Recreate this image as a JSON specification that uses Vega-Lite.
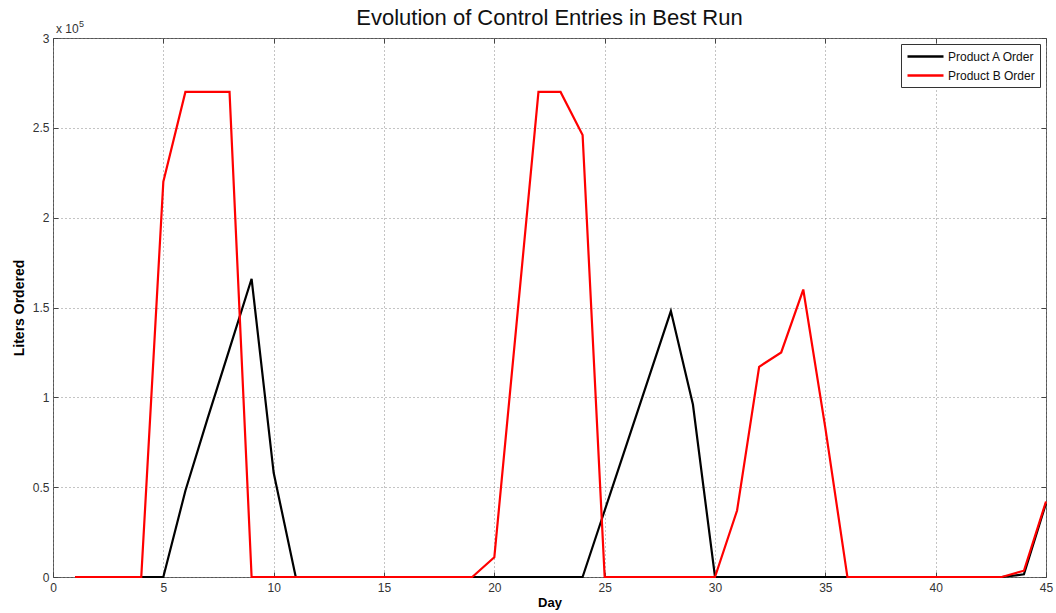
{
  "$schema": "https://vega.github.io/schema/vega-lite/v6.json",
  "width": 993,
  "height": 539,
  "autosize": {"type": "none"},
  "padding": {"left": 53, "top": 38, "right": 10, "bottom": 36},
  "background": "white",
  "config": {
    "font": "Liberation Sans",
    "view": {"stroke": "#555", "strokeWidth": 1},
    "axis": {"labelFont": "Liberation Sans", "titleFont": "Liberation Sans", "labelFontSize": 12, "labelColor": "#333", "tickColor": "#444", "domain": false}
  },
  "title": {"text": "Evolution of Control Entries in Best Run", "fontSize": 22, "fontWeight": "normal", "font": "Liberation Sans", "color": "#111", "offset": -10},
  "data": {"values": [
    {"day": 1, "series": "Product A Order", "value": 0},
    {"day": 2, "series": "Product A Order", "value": 0},
    {"day": 3, "series": "Product A Order", "value": 0},
    {"day": 4, "series": "Product A Order", "value": 0},
    {"day": 5, "series": "Product A Order", "value": 0},
    {"day": 6, "series": "Product A Order", "value": 48000},
    {"day": 7, "series": "Product A Order", "value": 88000},
    {"day": 8, "series": "Product A Order", "value": 127000},
    {"day": 9, "series": "Product A Order", "value": 166000},
    {"day": 10, "series": "Product A Order", "value": 58000},
    {"day": 11, "series": "Product A Order", "value": 0},
    {"day": 12, "series": "Product A Order", "value": 0},
    {"day": 13, "series": "Product A Order", "value": 0},
    {"day": 14, "series": "Product A Order", "value": 0},
    {"day": 15, "series": "Product A Order", "value": 0},
    {"day": 16, "series": "Product A Order", "value": 0},
    {"day": 17, "series": "Product A Order", "value": 0},
    {"day": 18, "series": "Product A Order", "value": 0},
    {"day": 19, "series": "Product A Order", "value": 0},
    {"day": 20, "series": "Product A Order", "value": 0},
    {"day": 21, "series": "Product A Order", "value": 0},
    {"day": 22, "series": "Product A Order", "value": 0},
    {"day": 23, "series": "Product A Order", "value": 0},
    {"day": 24, "series": "Product A Order", "value": 0},
    {"day": 25, "series": "Product A Order", "value": 37000},
    {"day": 26, "series": "Product A Order", "value": 74000},
    {"day": 27, "series": "Product A Order", "value": 111000},
    {"day": 28, "series": "Product A Order", "value": 148000},
    {"day": 29, "series": "Product A Order", "value": 96000},
    {"day": 30, "series": "Product A Order", "value": 0},
    {"day": 31, "series": "Product A Order", "value": 0},
    {"day": 32, "series": "Product A Order", "value": 0},
    {"day": 33, "series": "Product A Order", "value": 0},
    {"day": 34, "series": "Product A Order", "value": 0},
    {"day": 35, "series": "Product A Order", "value": 0},
    {"day": 36, "series": "Product A Order", "value": 0},
    {"day": 37, "series": "Product A Order", "value": 0},
    {"day": 38, "series": "Product A Order", "value": 0},
    {"day": 39, "series": "Product A Order", "value": 0},
    {"day": 40, "series": "Product A Order", "value": 0},
    {"day": 41, "series": "Product A Order", "value": 0},
    {"day": 42, "series": "Product A Order", "value": 0},
    {"day": 43, "series": "Product A Order", "value": 0},
    {"day": 44, "series": "Product A Order", "value": 1500},
    {"day": 45, "series": "Product A Order", "value": 41000},
    {"day": 1, "series": "Product B Order", "value": 0},
    {"day": 2, "series": "Product B Order", "value": 0},
    {"day": 3, "series": "Product B Order", "value": 0},
    {"day": 4, "series": "Product B Order", "value": 0},
    {"day": 5, "series": "Product B Order", "value": 220000},
    {"day": 6, "series": "Product B Order", "value": 270000},
    {"day": 7, "series": "Product B Order", "value": 270000},
    {"day": 8, "series": "Product B Order", "value": 270000},
    {"day": 9, "series": "Product B Order", "value": 0},
    {"day": 10, "series": "Product B Order", "value": 0},
    {"day": 11, "series": "Product B Order", "value": 0},
    {"day": 12, "series": "Product B Order", "value": 0},
    {"day": 13, "series": "Product B Order", "value": 0},
    {"day": 14, "series": "Product B Order", "value": 0},
    {"day": 15, "series": "Product B Order", "value": 0},
    {"day": 16, "series": "Product B Order", "value": 0},
    {"day": 17, "series": "Product B Order", "value": 0},
    {"day": 18, "series": "Product B Order", "value": 0},
    {"day": 19, "series": "Product B Order", "value": 0},
    {"day": 20, "series": "Product B Order", "value": 11000},
    {"day": 21, "series": "Product B Order", "value": 140000},
    {"day": 22, "series": "Product B Order", "value": 270000},
    {"day": 23, "series": "Product B Order", "value": 270000},
    {"day": 24, "series": "Product B Order", "value": 246000},
    {"day": 25, "series": "Product B Order", "value": 0},
    {"day": 26, "series": "Product B Order", "value": 0},
    {"day": 27, "series": "Product B Order", "value": 0},
    {"day": 28, "series": "Product B Order", "value": 0},
    {"day": 29, "series": "Product B Order", "value": 0},
    {"day": 30, "series": "Product B Order", "value": 0},
    {"day": 31, "series": "Product B Order", "value": 37000},
    {"day": 32, "series": "Product B Order", "value": 117000},
    {"day": 33, "series": "Product B Order", "value": 125000},
    {"day": 34, "series": "Product B Order", "value": 160000},
    {"day": 35, "series": "Product B Order", "value": 83000},
    {"day": 36, "series": "Product B Order", "value": 0},
    {"day": 37, "series": "Product B Order", "value": 0},
    {"day": 38, "series": "Product B Order", "value": 0},
    {"day": 39, "series": "Product B Order", "value": 0},
    {"day": 40, "series": "Product B Order", "value": 0},
    {"day": 41, "series": "Product B Order", "value": 0},
    {"day": 42, "series": "Product B Order", "value": 0},
    {"day": 43, "series": "Product B Order", "value": 0},
    {"day": 44, "series": "Product B Order", "value": 3500},
    {"day": 45, "series": "Product B Order", "value": 42000}
  ]},
  "resolve": {"axis": {"x": "independent", "y": "independent"}},
  "layer": [
    {
      "mark": {"type": "line", "strokeWidth": 2.2},
      "encoding": {
        "x": {"field": "day", "type": "quantitative", "scale": {"domain": [0, 45], "nice": false, "zero": false},
              "axis": {"orient": "bottom", "title": "Day", "titleFontSize": 13, "titleFontWeight": "bold", "titleColor": "#000", "titlePadding": 3,
                       "values": [0, 5, 10, 15, 20, 25, 30, 35, 40, 45], "grid": true, "gridDash": [1, 3], "gridColor": "#888", "tickSize": -5, "labelPadding": 10, "labelFlush": false}},
        "y": {"field": "value", "type": "quantitative", "scale": {"domain": [0, 300000], "nice": false},
              "axis": {"orient": "left", "title": "Liters Ordered", "titleFontSize": 14, "titleFontWeight": "bold", "titleColor": "#000", "titlePadding": 6,
                       "values": [0, 50000, 100000, 150000, 200000, 250000, 300000], "labelExpr": "datum.value / 100000", "grid": true, "gridDash": [1, 3], "gridColor": "#888", "tickSize": -5, "labelPadding": 9, "labelFlush": false}},
        "color": {"field": "series", "type": "nominal", "scale": {"domain": ["Product A Order", "Product B Order"], "range": ["#000000", "#ff0000"]},
                  "legend": {"title": null, "orient": "top-right", "offset": 6, "symbolType": "M-1,0H5", "symbolSize": 144, "symbolStrokeWidth": 2.5, "labelFontSize": 12, "labelFont": "Liberation Sans", "labelColor": "#111", "strokeColor": "#333", "fillColor": "white", "padding": 5, "rowPadding": 5, "labelOffset": 27}}
      }
    },
    {
      "mark": {"type": "line", "opacity": 0},
      "encoding": {
        "x": {"field": "day", "type": "quantitative", "axis": {"orient": "top", "title": null, "labels": false, "grid": false, "tickSize": -5, "values": [0, 5, 10, 15, 20, 25, 30, 35, 40, 45]}},
        "y": {"field": "value", "type": "quantitative", "axis": {"orient": "right", "title": null, "labels": false, "grid": false, "tickSize": -5, "values": [0, 50000, 100000, 150000, 200000, 250000, 300000]}}
      }
    },
    {
      "data": {"values": [{"label": "x 10"}]},
      "mark": {"type": "text", "align": "left", "baseline": "alphabetic", "dx": 3, "dy": -5, "fontSize": 12, "fontWeight": "normal", "font": "Liberation Sans", "color": "#333"},
      "encoding": {
        "x": {"datum": 0, "type": "quantitative", "axis": null},
        "y": {"datum": 300000, "type": "quantitative", "axis": null},
        "text": {"field": "label"}
      }
    },
    {
      "data": {"values": [{"label": "5"}]},
      "mark": {"type": "text", "align": "left", "baseline": "alphabetic", "dx": 26, "dy": -11, "fontSize": 9, "fontWeight": "normal", "font": "Liberation Sans", "color": "#333"},
      "encoding": {
        "x": {"datum": 0, "type": "quantitative", "axis": null},
        "y": {"datum": 300000, "type": "quantitative", "axis": null},
        "text": {"field": "label"}
      }
    }
  ]
}
